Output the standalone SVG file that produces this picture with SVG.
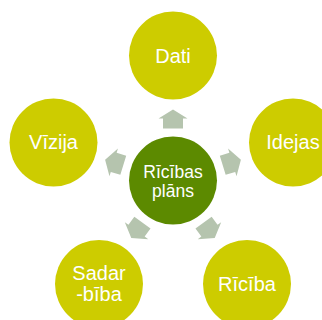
<svg xmlns="http://www.w3.org/2000/svg" width="322" height="320" viewBox="0 0 322 320">
<defs>
<style>
.outer{fill:#CDCC00}
.center{fill:#5C8A00}
.arrow{fill:#B5C4AE}
text{font-family:"Liberation Sans",Arial,sans-serif;fill:#fff;text-anchor:middle}
.t{font-size:20px}
.c{font-size:17.5px}
</style>
<polygon id="arr" points="52,-10 62,-10 62,-14.5 71,0 62,14.5 62,10 52,10"/>
</defs>
<rect width="322" height="320" fill="#fff"/>
<g id="connectors" class="arrow">
<use href="#arr" transform="translate(173,180.5) rotate(-90)"/>
<use href="#arr" transform="translate(173,180.5) rotate(-17)"/>
<use href="#arr" transform="translate(173,180.5) rotate(54)"/>
<use href="#arr" transform="translate(173,180.5) rotate(126)"/>
<use href="#arr" transform="translate(173,180.5) rotate(197)"/>
</g>
<g id="center">
<circle class="center" cx="173" cy="180.5" r="44"/>
<text class="c" x="173" y="177.5">Rīcības</text>
<text class="c" x="173" y="197">plāns</text>
</g>
<g id="dati">
<circle class="outer" cx="173" cy="55.5" r="44"/>
<text class="t" x="173" y="62.5">Dati</text>
</g>
<g id="idejas">
<circle class="outer" cx="293" cy="142.5" r="44"/>
<text class="t" x="293" y="149">Idejas</text>
</g>
<g id="ricba">
<circle class="outer" cx="247" cy="284" r="44"/>
<text class="t" x="247" y="291">Rīcība</text>
</g>
<g id="sadarbiba">
<circle class="outer" cx="99" cy="284" r="44"/>
<text class="t" x="99" y="279.5">Sadar</text>
<text class="t" x="99" y="300.5">-bība</text>
</g>
<g id="vizija">
<circle class="outer" cx="53.5" cy="142.5" r="44"/>
<text class="t" x="53.5" y="149">Vīzija</text>
</g>
</svg>
